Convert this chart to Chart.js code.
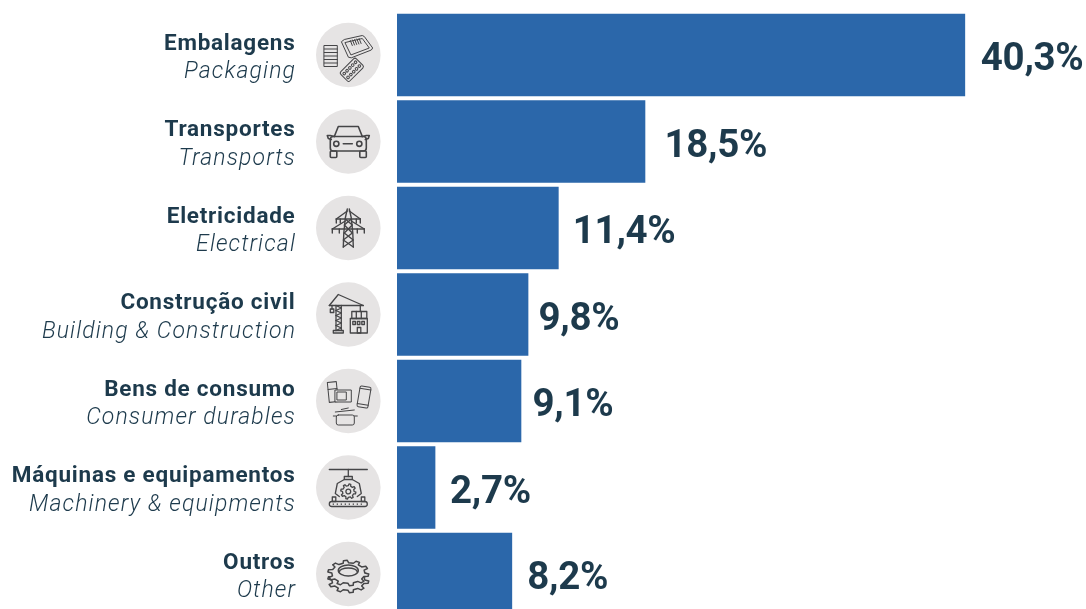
<!DOCTYPE html>
<html><head><meta charset="utf-8">
<script src="https://cdn.jsdelivr.net/npm/chart.js@4"></script>
<style>html,body{margin:0;padding:0;background:#fff;overflow:hidden;height:609px}#w{width:1086px;height:620px}</style>
</head><body><div id="w"><canvas id="c" width="1086" height="620"></canvas></div>
<script>
const categoriesPt = ["Embalagens","Transportes","Eletricidade","Construção civil","Bens de consumo","Máquinas e equipamentos","Outros"];
const categoriesEn = ["Packaging","Transports","Electrical","Building & Construction","Consumer durables","Machinery & equipments","Other"];
const valueLabels = ["40,3%","18,5%","11,4%","9,8%","9,1%","2,7%","8,2%"];
// Bar lengths as drawn in the picture, in the chart's percent units
const barLengths = [40.3,17.6,11.45,9.3,8.8,2.7,8.15];
const labelGaps = [16,19.5,14.5,10.5,11.5,15,15.5];
const iconNames = ["pack","car","tower","crane","goods","machine","gear"];

const NAVY="#1d3a4c", BLUE="#2b67aa", ICON="#454547", DISC="#e6e4e4";
function P(x,pts,close){x.beginPath();pts.forEach((p,i)=>i?x.lineTo(p[0],p[1]):x.moveTo(p[0],p[1]));if(close)x.closePath();x.stroke();}
function R(x,a,b,w,h,r){x.beginPath();x.roundRect(a,b,w,h,r||0);x.stroke();}
function C(x,a,b,r){x.beginPath();x.arc(a,b,r,0,Math.PI*2);x.stroke();}
function gearShape(x,cx,cy,r1,r2,n,sy){x.beginPath();for(let i=0;i<n;i++){const s=Math.PI*2/n,t=i*s;[[t,r1],[t+s*.12,r2],[t+s*.42,r2],[t+s*.54,r1]].forEach((q,j)=>{const X=cx+Math.cos(q[0])*q[1],Y=cy+Math.sin(q[0])*q[1]*sy;(i||j)?x.lineTo(X,Y):x.moveTo(X,Y);});}x.closePath();x.stroke();}
const icons={
 pack(x){x.lineWidth=1;
  P(x,[[-6.6,-13.5],[-4,-15.5],[14,-19.5],[16,-18.5],[24.4,-7],[23,-5],[3,2.8],[.5,2.3]],true);P(x,[[-3,-12.5],[14,-16.5],[21,-7],[3,-.2]],true);
  for(let i=0;i<5;i++)P(x,[[2+i*2.2,-14.5+i*-.5],[4+i*2.2,-9.5-i*.5]]);
  x.strokeRect(-24,-9.5,13,21);for(let i=1;i<6;i++)P(x,[[-24,-9.5+i*3.5],[-11,-9.5+i*3.5]]);
  x.save();x.translate(3.5,14.8);x.rotate(-Math.PI/4);R(x,-11,-6.5,22,13,2);for(let a=-8;a<=8;a+=4)for(const b of[-2.7,2.7])C(x,a,b,1.3);x.restore();},
 car(x){x.lineWidth=1.6;P(x,[[-14,-5],[-10,-15],[10,-15],[14,-5]]);R(x,-18,-5,36,14.5,3);P(x,[[-14,-5],[-18,-6],[-21,-6],[-20,-3],[-17,-2]]);P(x,[[14,-5],[18,-6],[21,-6],[20,-3],[17,-2]]);
  R(x,-18,9.5,6.5,6.5,1);R(x,11.5,9.5,6.5,6.5,1);C(x,-12,2.3,2.6);C(x,11,2.3,2.6);P(x,[[-5,2.3],[4,2.3]]);},
 tower(x){x.lineWidth=1.4;P(x,[[-1,-19],[-3,-10],[-4.5,5],[-5,19]]);P(x,[[1,-19],[3,-10],[4.5,5],[5,19]]);
  P(x,[[-12,-9],[12,-9]]);P(x,[[-16,1],[16,1]]);P(x,[[-12,-9],[-1,-17]]);P(x,[[12,-9],[1,-17]]);P(x,[[-16,1],[-3,-7]]);P(x,[[16,1],[3,-7]]);
  P(x,[[-3,-9],[4,-3],[-4,5],[5,12],[-5,19]]);P(x,[[3,-9],[-4,-3],[4,5],[-5,12],[5,19]]);
  for(const q of[[-12,-9],[12,-9],[-8,-9],[8,-9],[-16,1],[16,1],[-9,1],[9,1]])P(x,[q,[q[0],q[1]+4]]);},
 crane(x){x.lineWidth=1.3;P(x,[[-19,-9],[15,-9]]);P(x,[[-19,-9],[-10,-20],[15,-9]]);P(x,[[-12.3,-9],[-12.3,16]]);P(x,[[-7,-9],[-7,16]]);
  for(let y=-9;y<14;y+=5){P(x,[[-12.3,y],[-7,y+2.5],[-12.3,y+5]]);}
  x.strokeRect(-15,16,10,2.5);x.strokeRect(-18,-5.5,3.5,3.5);P(x,[[-16.3,-9],[-16.3,-5.5]]);P(x,[[12,-9],[12,-3]]);
  x.strokeRect(2,4,17,14.5);x.strokeRect(3.5,-3,15,7);P(x,[[8,-3],[8,4]]);P(x,[[13,-3],[13,4]]);for(const a of[4.5,9,13.5]){x.strokeRect(a,7,2.6,3);}x.strokeRect(9,13,3.5,5.5);},
 goods(x){x.lineWidth=1;x.save();x.translate(-15.5,-9);x.rotate(-.1);x.strokeRect(-4.5,-10,9,20);P(x,[[-4.5,-3],[4.5,-3]]);x.restore();
  x.fillStyle=DISC;x.fillRect(-13,-11,16,12);x.strokeRect(-13,-11,16,12);x.strokeRect(-11,-9,9,8);
  x.save();x.translate(15.7,-4);x.rotate(.17);R(x,-5.5,-10.5,11,21,1.5);P(x,[[-5.5,-8],[5.5,-8]]);P(x,[[-5.5,7.5],[5.5,7.5]]);x.restore();
  R(x,-12,14,18,10,2);P(x,[[-15,15],[-12,15]]);P(x,[[6,15],[9,15]]);P(x,[[-13,11],[6,9]]);P(x,[[-7,8.5],[0,7]]);},
 machine(x){x.lineWidth=1.3;P(x,[[-19,-18],[19,-18]]);P(x,[[0,-18],[0,-11]]);x.strokeRect(-4,-11,8,3);
  P(x,[[-4,-8],[-11,-4],[-13,6],[-9,9]]);P(x,[[4,-8],[11,-4],[13,6],[9,9]]);gearShape(x,0,4,5.8,7.6,8,1);C(x,0,4,2.4);
  R(x,-19,14,38,5,2.5);x.strokeRect(-16,9.5,3.5,4.5);x.strokeRect(13,9.5,3.5,4.5);for(let a=-15;a<=15;a+=4){x.fillStyle=ICON;x.fillRect(a-.6,16,1.3,1.3);}},
 gear(x){x.lineWidth=1.5;x.save();x.translate(0,6);gearShape(x,0,0,16.5,20.5,10,.62);x.restore();x.fillStyle=DISC;x.save();x.translate(0,-1);
  x.beginPath();for(let i=0;i<10;i++){const s=Math.PI*.2,t=i*s;[[t,16.5],[t+s*.12,20.5],[t+s*.42,20.5],[t+s*.54,16.5]].forEach((q,j)=>{const X=Math.cos(q[0])*q[1],Y=Math.sin(q[0])*q[1]*.62;(i||j)?x.lineTo(X,Y):x.moveTo(X,Y);});}x.closePath();x.fill();x.stroke();x.restore();
  x.beginPath();x.ellipse(0,-3.5,10,5.5,0,0,Math.PI*2);x.stroke();x.beginPath();x.ellipse(0,-2,9,4,0,Math.PI,Math.PI*2);x.stroke();}
};
const decor={id:"decor",afterDatasetsDraw(chart){
  const x=chart.ctx,ys=chart.scales.y,meta=chart.getDatasetMeta(0);
  x.save();
  categoriesPt.forEach((name,i)=>{
    const cy=ys.getPixelForValue(i);
    x.textAlign="right";x.textBaseline="alphabetic";x.fillStyle=NAVY;
    x.letterSpacing="0.75px";x.font='700 22.5px "Roboto"';x.fillText(name,295.5,cy-5.5);
    x.letterSpacing="1.1px";x.font='italic 300 23px "Roboto"';x.fillText(categoriesEn[i],296,cy+23);
    x.letterSpacing="-0.3px";x.textAlign="left";x.font='700 38.5px "Roboto"';
    x.fillText(valueLabels[i],meta.data[i].x+labelGaps[i],cy+15);
    x.letterSpacing="0px";
    x.fillStyle=DISC;x.beginPath();x.arc(348.3,cy,32.3,0,Math.PI*2);x.fill();
    x.save();x.translate(348.3,cy);x.strokeStyle=ICON;x.lineJoin="round";x.lineCap="round";icons[iconNames[i]](x);x.restore();
  });
  x.restore();
}};
new Chart(document.getElementById("c"),{type:"bar",
 data:{labels:categoriesPt,datasets:[{data:barLengths,backgroundColor:BLUE,barThickness:82,borderWidth:0}]},
 options:{indexAxis:"y",responsive:false,animation:false,
  layout:{padding:{left:397,top:11.75,bottom:2.75,right:0}},
  plugins:{legend:{display:false},tooltip:{enabled:false}},
  scales:{x:{display:false,min:0,max:48.9},y:{display:false}}},
 plugins:[decor]});
</script></body></html>
